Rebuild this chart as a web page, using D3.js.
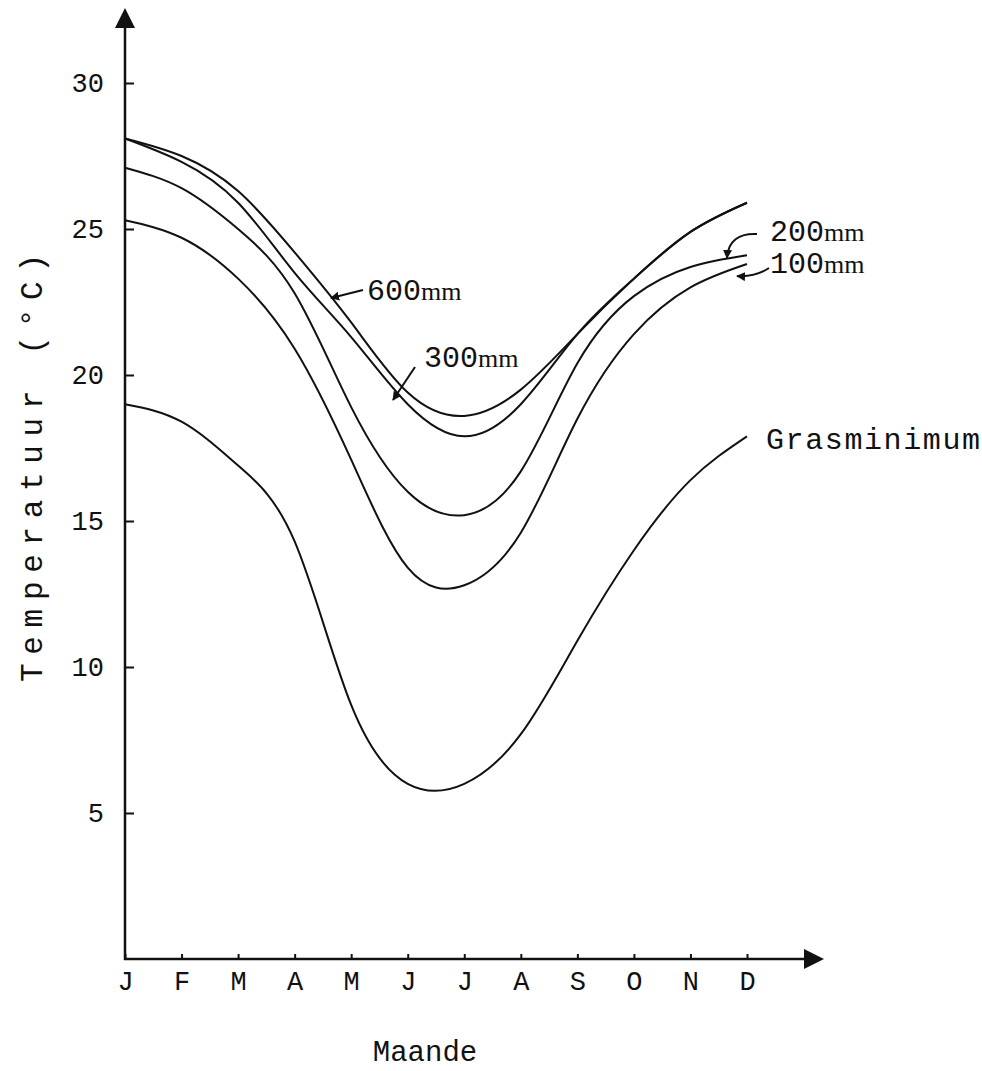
<!DOCTYPE html>
<meta charset="utf-8">
<style>
  body { margin: 0; background: #fff; }
  text { font-family: "Liberation Mono", monospace; fill: #111; }
</style>
<svg width="982" height="1071"></svg>
<script src="https://d3js.org/d3.v7.min.js"></script>
<script>

// months (Afrikaans initials)
var months = ["J", "F", "M", "A", "M", "J", "J", "A", "S", "O", "N", "D"];
var yTicks = [5, 10, 15, 20, 25, 30];

// temperature (°C) per month
var t600 = [28.1, 27.5, 26.3, 24.2, 21.8, 19.4, 18.6, 19.5, 21.4, 23.3, 24.9, 25.9];
var t300 = [28.1, 27.3, 25.9, 23.5, 21.3, 19.0, 17.9, 19.0, 21.4, 23.3, 24.9, 25.9];
var t200 = [27.1, 26.4, 25.0, 22.8, 18.9, 16.0, 15.2, 16.7, 20.4, 22.7, 23.7, 24.1];
var t100 = [25.3, 24.7, 23.3, 20.9, 17.1, 13.4, 12.8, 14.6, 18.5, 21.4, 23.0, 23.8];
var gras = [19.0, 18.4, 16.9, 14.3, 8.7, 6.0, 6.0, 7.7, 10.9, 14.0, 16.4, 17.9];

var svg = d3.select("svg");

var x = d3.scaleLinear().domain([0, 11]).range([125, 747]);
var y = d3.scaleLinear().domain([0, 30]).range([959, 83]);

// arrow marker for the label pointers
svg.append("defs").append("marker")
    .attr("id", "tip")
    .attr("viewBox", "0 0 10 10")
    .attr("refX", 9).attr("refY", 5)
    .attr("markerWidth", 4.5).attr("markerHeight", 4.5)
    .attr("markerUnits", "strokeWidth")
    .attr("orient", "auto")
  .append("path")
    .attr("d", "M0,0L10,5L0,10z")
    .attr("fill", "#111");

// y axis
var yAxis = d3.axisLeft(y)
    .tickValues(yTicks)
    .tickSizeInner(-9)
    .tickSizeOuter(0)
    .tickPadding(21);

var gy = svg.append("g")
    .attr("transform", "translate(" + x(0) + ",0)")
    .call(yAxis);
gy.select(".domain").remove();
gy.selectAll(".tick line").attr("stroke", "#111").attr("stroke-width", 2);
gy.selectAll(".tick text").attr("font-size", 27).attr("fill", "#111");

// x axis
var xAxis = d3.axisBottom(x)
    .tickValues(d3.range(months.length))
    .tickFormat(function (i) { return months[i]; })
    .tickSizeInner(-5)
    .tickSizeOuter(0)
    .tickPadding(12);

var gx = svg.append("g")
    .attr("transform", "translate(0," + y(0) + ")")
    .call(xAxis);
gx.select(".domain").remove();
gx.selectAll(".tick line").attr("stroke", "#111").attr("stroke-width", 2);
gx.selectAll(".tick text").attr("font-size", 27).attr("fill", "#111");

// axis lines with arrow heads
svg.append("line")
    .attr("x1", x(0)).attr("y1", y(0) + 1)
    .attr("x2", x(0)).attr("y2", 26)
    .attr("stroke", "#111").attr("stroke-width", 2.5);
svg.append("path")
    .attr("d", "M" + x(0) + ",8L" + (x(0) - 10) + ",28L" + (x(0) + 10) + ",28Z")
    .attr("fill", "#111");

svg.append("line")
    .attr("x1", x(0) - 1).attr("y1", y(0))
    .attr("x2", 806).attr("y2", y(0))
    .attr("stroke", "#111").attr("stroke-width", 2.5);
svg.append("path")
    .attr("d", "M824," + y(0) + "L804," + (y(0) - 10) + "L804," + (y(0) + 10) + "Z")
    .attr("fill", "#111");

// curves
var line = d3.line()
    .x(function (d, i) { return x(i); })
    .y(function (d) { return y(d); })
    .curve(d3.curveNatural);

[t600, t300, t200, t100, gras].forEach(function (s) {
    svg.append("path")
        .datum(s)
        .attr("d", line)
        .attr("fill", "none")
        .attr("stroke", "#111")
        .attr("stroke-width", 2);
});

// labels
function mmLabel(num, lx, ly) {
    var t = svg.append("text")
        .attr("x", lx).attr("y", ly)
        .attr("font-size", 30);
    t.append("tspan").text(num);
    t.append("tspan")
        .attr("font-family", "Liberation Serif, serif")
        .attr("font-size", 26)
        .text("mm");
}

mmLabel("600", 367, 300);
mmLabel("300", 424, 367);
mmLabel("200", 770, 241);
mmLabel("100", 770, 273);

svg.append("text")
    .attr("x", 766).attr("y", 449)
    .attr("font-size", 30)
    .attr("textLength", 214)
    .attr("lengthAdjust", "spacing")
    .text("Grasminimum");

function pointer(d) {
    svg.append("path")
        .attr("d", d)
        .attr("fill", "none")
        .attr("stroke", "#111")
        .attr("stroke-width", 2)
        .attr("marker-end", "url(#tip)");
}

pointer("M363,290L331,298");
pointer("M415,367L393,400");
pointer("M757,234C738,233 728,242 727,258");
pointer("M769,268C760,274 750,277 737,276");

// axis titles
svg.append("text")
    .attr("transform", "translate(42,468) rotate(-90)")
    .attr("text-anchor", "middle")
    .attr("font-size", 31)
    .attr("textLength", 428)
    .attr("lengthAdjust", "spacing")
    .text("Temperatuur (°C)");

svg.append("text")
    .attr("x", 425).attr("y", 1061)
    .attr("text-anchor", "middle")
    .attr("font-size", 29)
    .text("Maande");

</script>
